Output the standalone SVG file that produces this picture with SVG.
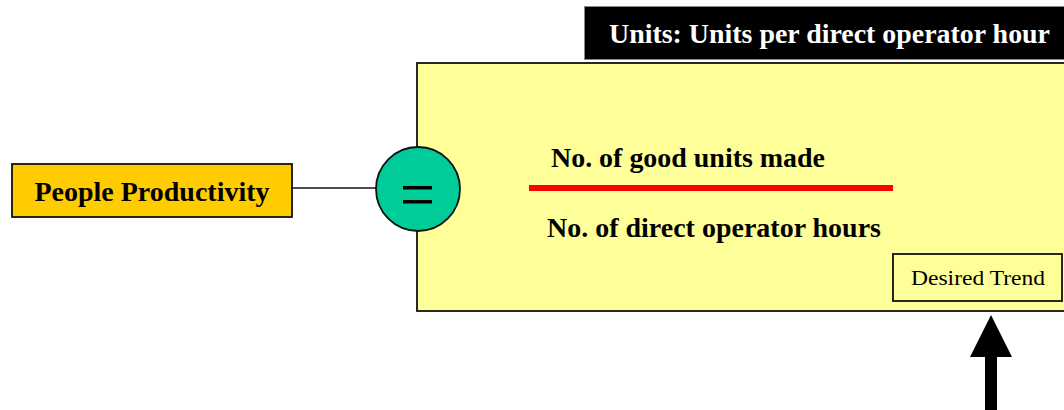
<svg xmlns="http://www.w3.org/2000/svg" width="1064" height="410" viewBox="0 0 1064 410">
  <style>
    .bold { font-family: "Liberation Serif", "Times New Roman", serif; font-weight: bold; }
    .plain { font-family: "Liberation Serif", "Times New Roman", serif; }
    .edge { stroke: #111; stroke-width: 1.5; }
    .box { stroke: #111; stroke-width: 1.8; }
  </style>
  <rect width="1064" height="410" fill="#fff"/>

  <!-- measure panel -->
  <g id="formula-panel">
    <rect class="box" x="417" y="63" width="660" height="248" fill="#FFFF99"/>
    <text class="bold" x="551" y="167" font-size="27" textLength="274" lengthAdjust="spacingAndGlyphs">No. of good units made</text>
    <line x1="529" y1="188" x2="893" y2="188" stroke="#FF0000" stroke-width="6"/>
    <text class="bold" x="547" y="237" font-size="27" textLength="334" lengthAdjust="spacingAndGlyphs">No. of direct operator hours</text>
  </g>

  <!-- units banner -->
  <g id="units-banner">
    <rect x="584.5" y="6.5" width="490" height="53" fill="#000" stroke="#888" stroke-width="1"/>
    <text class="bold" x="609" y="43" font-size="27" fill="#fff" textLength="441" lengthAdjust="spacingAndGlyphs">Units: Units per direct operator hour</text>
  </g>

  <g id="connectors">
    <line class="edge" x1="292" y1="188" x2="376" y2="188"/>
    <!-- trend arrow -->
    <polygon points="991,315 1012,357 997,357 997,410 985,410 985,357 970,357" fill="#000"/>
  </g>

  <g id="people-productivity">
    <rect class="box" x="12" y="164" width="280" height="53" fill="#FFCC00"/>
    <text class="bold" x="152" y="201" font-size="28" text-anchor="middle" textLength="235" lengthAdjust="spacingAndGlyphs">People Productivity</text>
  </g>

  <g id="equals">
    <circle cx="418" cy="189" r="42" fill="#00CC99" stroke="#111" stroke-width="1.8"/>
    <rect x="403" y="186" width="29" height="3.5" fill="#000"/>
    <rect x="403" y="200" width="29" height="3.5" fill="#000"/>
  </g>

  <g id="desired-trend">
    <rect class="box" x="893" y="254" width="169" height="47" fill="#FFFF99"/>
    <text class="plain" x="911" y="285" font-size="22" textLength="134" lengthAdjust="spacingAndGlyphs">Desired Trend</text>
  </g>
</svg>
